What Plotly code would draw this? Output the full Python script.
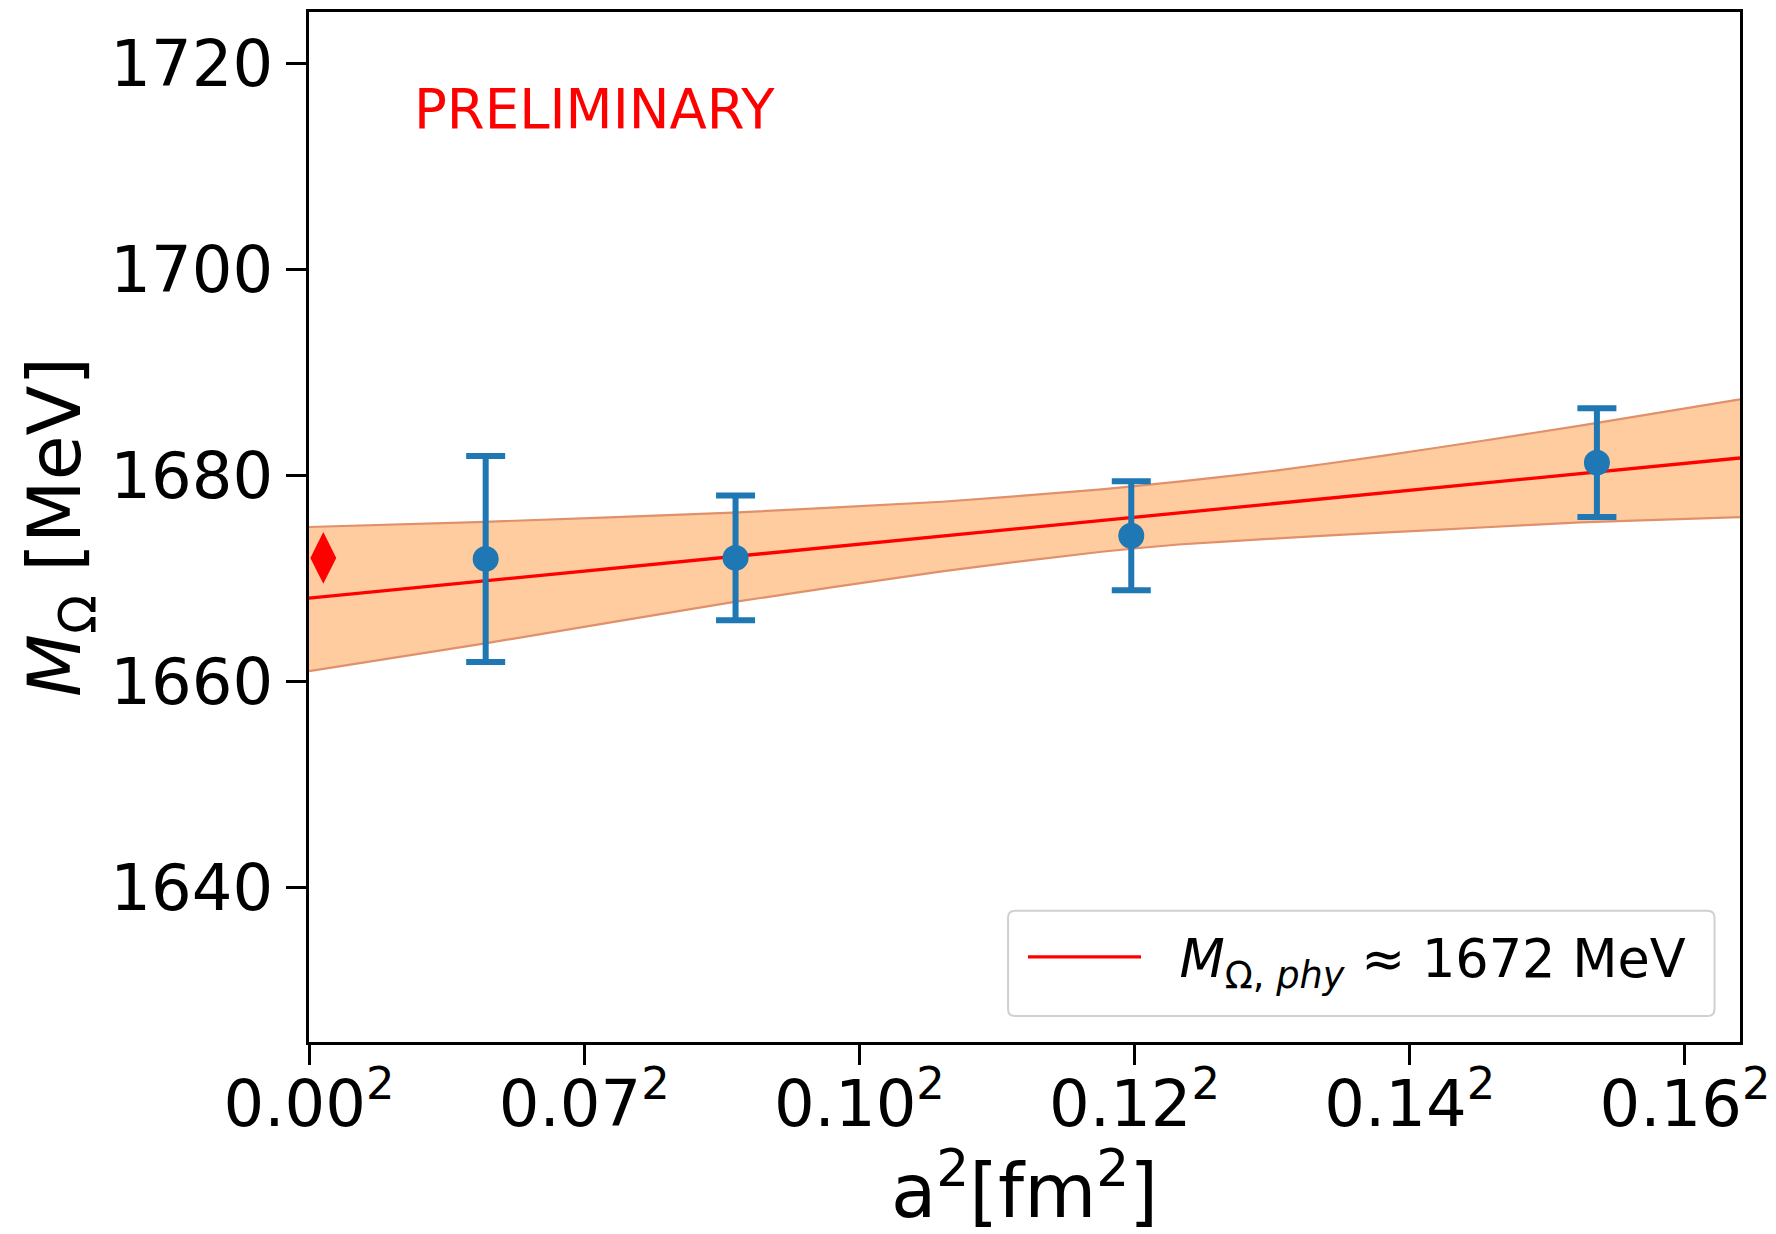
import plotly.graph_objects as go

# Lattice data: a^2 [fm^2] and Omega baryon mass [MeV] with errors
a2_vals = [0.00321, 0.00775, 0.01494, 0.02340]
m_omega = [1671.9, 1672.0, 1674.15, 1681.25]
m_err = [10.0, 6.05, 5.3, 5.27]

# Continuum extrapolation: central fit line and error band
fit_x = [0.0, 0.026]
fit_y = [1668.1, 1681.7]
band_x = [0.0, 0.0032, 0.0077, 0.0115, 0.0144, 0.0158, 0.0176, 0.0195, 0.0213, 0.0231, 0.026]
band_hi = [1675.0, 1675.5, 1676.4, 1677.45, 1678.65, 1679.4, 1680.5, 1681.9, 1683.35, 1684.85, 1687.4]
band_lo = [1661.0, 1663.7, 1667.7, 1670.7, 1672.6, 1673.3, 1673.9, 1674.45, 1674.95, 1675.45, 1675.95]

# Physical point
phys_x = [0.00026]
phys_y = [1672.0]

# Axis ticks
x_tickvals = [0.0, 0.005, 0.010, 0.015, 0.020, 0.025]
x_ticktext = ["0.00<sup>2</sup>", "0.07<sup>2</sup>", "0.10<sup>2</sup>",
              "0.12<sup>2</sup>", "0.14<sup>2</sup>", "0.16<sup>2</sup>"]
y_tickvals = [1640, 1660, 1680, 1700, 1720]

FONT = "DejaVu Sans"
BAND_FILL = "rgba(255,127,14,0.4)"
BAND_EDGE = "#e0906a"
BLUE = "#1f77b4"

fig = go.Figure()

fig.add_trace(go.Scatter(
    x=band_x, y=band_hi, mode="lines",
    line=dict(color=BAND_EDGE, width=2.2, shape="spline", smoothing=0.5),
    showlegend=False, hoverinfo="skip",
))
fig.add_trace(go.Scatter(
    x=band_x, y=band_lo, mode="lines", fill="tonexty", fillcolor=BAND_FILL,
    line=dict(color=BAND_EDGE, width=2.2, shape="spline", smoothing=0.5),
    showlegend=False, hoverinfo="skip",
))
fig.add_trace(go.Scatter(
    x=fit_x, y=fit_y, mode="lines",
    line=dict(color="red", width=3.3),
    name="\u00a0\u00a0<i>M</i><sub>Ω, <i>phy</i></sub> ≈ 1672 MeV",
))
fig.add_trace(go.Scatter(
    x=a2_vals, y=m_omega, mode="markers",
    marker=dict(color=BLUE, size=26),
    error_y=dict(type="data", array=m_err, visible=True,
                 color=BLUE, thickness=6, width=19.5),
    showlegend=False,
))
fig.add_trace(go.Scatter(
    x=phys_x, y=phys_y, mode="markers",
    marker=dict(color="red", symbol="diamond-tall", size=37),
    showlegend=False,
))

fig.add_annotation(
    x=0.00187, y=1715.6, xref="x", yref="y",
    text="PRELIMINARY", showarrow=False,
    xanchor="left", yanchor="middle",
    font=dict(family=FONT, size=54.5, color="red"),
)

# Legend frame with rounded corners (paper coordinates)
lx0, lx1, ly0, ly1 = 0.4885, 0.9822, 0.0252, 0.1274
rx, ry = 0.0049, 0.0068
frame_path = (
    f"M {lx0 + rx} {ly0} L {lx1 - rx} {ly0} Q {lx1} {ly0} {lx1} {ly0 + ry} "
    f"L {lx1} {ly1 - ry} Q {lx1} {ly1} {lx1 - rx} {ly1} "
    f"L {lx0 + rx} {ly1} Q {lx0} {ly1} {lx0} {ly1 - ry} "
    f"L {lx0} {ly0 + ry} Q {lx0} {ly0} {lx0 + rx} {ly0} Z"
)
fig.add_shape(
    type="path", path=frame_path, xref="paper", yref="paper",
    fillcolor="rgba(255,255,255,0.8)", line=dict(color="#d0d0d0", width=2),
    layer="above",
)

axis_common = dict(
    showline=True, linecolor="black", linewidth=3, mirror=True,
    ticks="outside", ticklen=20, tickwidth=2.5, tickcolor="black",
    showgrid=False, zeroline=False, automargin=False,
    tickfont=dict(family=FONT, size=64, color="black"),
)

fig.update_layout(
    width=1776, height=1234,
    margin=dict(l=309, r=36, t=12, b=192),
    paper_bgcolor="white", plot_bgcolor="white",
    font=dict(family=FONT, color="black"),
    xaxis=dict(
        range=[0, 0.026], tickvals=x_tickvals, ticktext=x_ticktext,
        ticklabelstandoff=-16,
        title=dict(text="a<sup>2</sup>[fm<sup>2</sup>]",
                   font=dict(family=FONT, size=74, color="black"), standoff=34),
        **axis_common,
    ),
    yaxis=dict(
        range=[1625, 1725], tickvals=y_tickvals,
        title=dict(text="<i>M</i><sub>Ω</sub> [MeV]",
                   font=dict(family=FONT, size=73, color="black"), standoff=6),
        **axis_common,
    ),
    legend=dict(
        x=0.49895, y=0.0822, xanchor="left", yanchor="middle",
        bgcolor="rgba(0,0,0,0)", borderwidth=0,
        font=dict(family=FONT, size=52.5, color="black"),
        itemwidth=113,
    ),
)

fig.write_html("out.html")
